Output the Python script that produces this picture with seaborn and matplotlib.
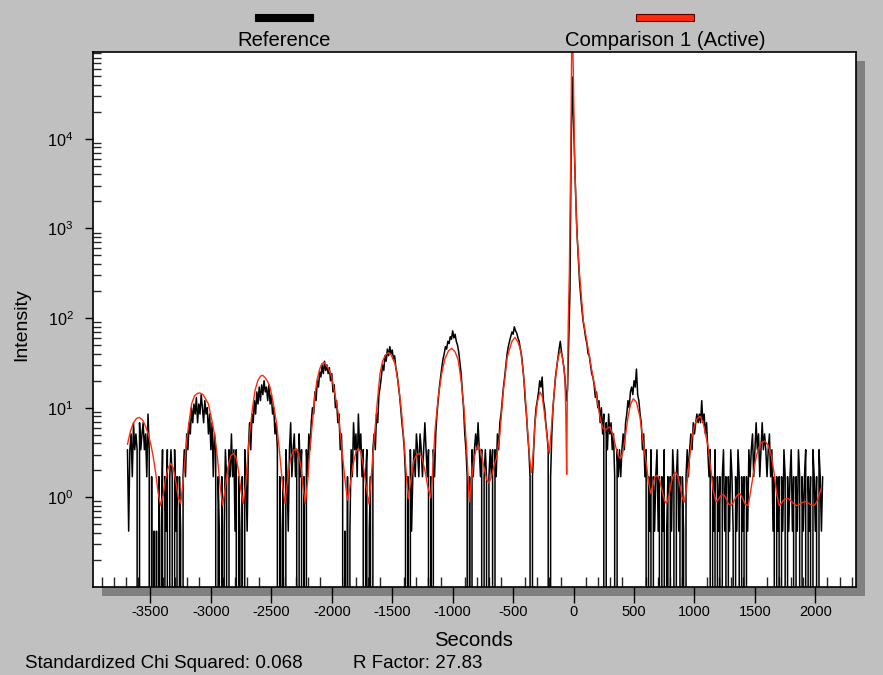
import numpy as np
import matplotlib
matplotlib.use("Agg")
import matplotlib.pyplot as plt
from matplotlib.patches import Rectangle
from matplotlib.ticker import FixedLocator, MultipleLocator, LogLocator, NullFormatter
import seaborn as sns

sns.set_style("white")
plt.rcParams["font.family"] = ["Liberation Sans", "DejaVu Sans"]
plt.rcParams["mathtext.fontset"] = "custom"
plt.rcParams["mathtext.rm"] = "Liberation Sans"
plt.rcParams["axes.unicode_minus"] = False
plt.rcParams["text.color"] = "black"

# ================================
# DATA
# ================================

# measured scan, one value every 10 s starting at -3690 s
black_start = -3690
black_step = 10
black_int = [
    # -3690
    3.4, 0.42, 3.4, 5.1, 1.7, 6.8, 3.4, 5.1, 3.4, 0, 6.8, 3.4, 5.1, 6.8, 3.4,
    5.1, 1.7, 8.5, 3.4, 0, 1.7, 0, 0.42, 0, 0.42, 0, 1.7, 0, 0.42, 3.4,
    # -3390
    0, 1.7, 0.42, 3.4, 0, 1.7, 3.4, 1.7, 0, 3.4, 0.42, 1.7, 0, 1.7, 0.42,
    0, 1.7, 3.4, 1.7, 5.1, 3.4, 6.8, 5.1, 10, 6.8, 11, 8.5, 13, 6.8, 11,
    # -3090
    8.5, 14, 10, 6.8, 12, 8.5, 10, 5.1, 8.5, 3.4, 6.8, 1.7, 5.1, 3.4, 0,
    1.7, 0.42, 0, 1.7, 0, 0.42, 3.4, 1.7, 0, 3.4, 1.7, 5.1, 1.7, 3.4, 0.42,
    # -2790
    3.4, 0, 1.7, 0.42, 0, 1.7, 0, 3.4, 1.7, 0.42, 3.4, 6.8, 3.4, 8.5, 6.8,
    12, 8.5, 15, 11, 17, 12, 18, 14, 20, 15, 17, 12, 18, 11, 14,
    # -2490
    8.5, 10, 5.1, 6.8, 3.4, 0, 1.7, 0, 0.42, 1.7, 0, 3.4, 1.7, 0.42, 3.4,
    6.8, 1.7, 3.4, 5.1, 1.7, 3.4, 0, 5.1, 1.7, 3.4, 0, 1.7, 0, 3.4, 1.7,
    # -2190
    5.1, 3.4, 6.8, 10, 8.5, 15, 12, 20, 17, 25, 22, 30, 24, 33, 26,
    30, 24, 28, 20, 24, 15, 18, 10, 12, 6.8, 8.5, 3.4, 5.1, 1.7, 0,
    # -1890
    0.42, 0, 1.7, 0, 0.42, 3.4, 1.7, 6.8, 3.4, 5.1, 1.7, 8.5, 3.4, 5.1, 1.7,
    3.4, 0, 1.7, 3.4, 0, 0.42, 1.7, 0, 3.4, 5.1, 3.4, 8.5, 6.8, 14, 17,
    # -1590
    22, 30, 26, 38, 33, 45, 38, 48, 40, 44, 35, 38, 28, 24, 18,
    14, 10, 6.8, 5.1, 3.4, 1.7, 0, 1.7, 0, 3.4, 0.42, 1.7, 3.4, 1.7, 5.1,
    # -1290
    3.4, 1.7, 5.1, 3.4, 1.7, 3.4, 6.8, 3.4, 1.7, 3.4, 0, 1.7, 0, 3.4, 1.7,
    5.1, 8.5, 12, 17, 22, 28, 35, 40, 48, 45, 55, 52, 62, 58, 72,
    # -990
    60, 66, 55, 50, 42, 32, 24, 15, 10, 5.1, 3.4, 1.7, 0, 1.7, 0,
    3.4, 1.7, 3.4, 5.1, 3.4, 6.8, 3.4, 1.7, 3.4, 0, 1.7, 3.4, 1.7, 0, 1.7,
    # -690
    3.4, 1.7, 3.4, 0, 3.4, 1.7, 5.1, 3.4, 6.8, 8.5, 12, 17, 22, 30, 40,
    48, 55, 62, 70, 66, 80, 72, 68, 60, 55, 45, 38, 28, 20, 12,
    # -390
    8.5, 5.1, 3.4, 1.7, 0, 1.7, 3.4, 6.8, 10, 12, 15, 20, 17, 22, 12,
    10, 6.8, 5.1, 3.4, 0, 1.7, 5.1, 10, 15, 22, 28, 36, 45, 55, 42,
    # -90
    35, 28, 20, 12, 16, 60, 200, 8000, 49000, 15000, 5000, 1800, 800, 450, 250,
    170, 120, 90, 75, 60, 52, 40, 38, 30, 24, 22, 18, 13, 15, 10,
    # 210
    12, 6.8, 10, 5.1, 8.5, 0, 6.8, 3.4, 8.5, 5.1, 6.8, 3.4, 5.1, 1.7, 0,
    3.4, 1.7, 3.4, 1.7, 3.4, 5.1, 3.4, 6.8, 8.5, 12, 10, 15, 17, 14, 20,
    # 510
    17, 27, 14, 12, 8.5, 6.8, 3.4, 5.1, 1.7, 3.4, 0, 1.7, 0.42, 3.4, 0,
    1.7, 0.42, 1.7, 3.4, 0.42, 1.7, 0, 1.7, 0.42, 3.4, 0, 0.42, 1.7, 0, 1.7,
    # 810
    0.42, 3.4, 1.7, 0, 1.7, 3.4, 0.42, 1.7, 0, 1.7, 0.42, 0, 1.7, 3.4, 1.7,
    3.4, 5.1, 3.4, 6.8, 5.1, 6.8, 8.5, 6.8, 8.5, 6.8, 12, 6.8, 8.5, 5.1, 6.8,
    # 1110
    3.4, 1.7, 3.4, 0, 1.7, 0.42, 3.4, 0, 1.7, 0.42, 1.7, 0, 1.7, 3.4, 0.42,
    1.7, 0, 1.7, 0.42, 3.4, 1.7, 0.42, 0, 1.7, 0.42, 3.4, 1.7, 0, 1.7, 0.42,
    # 1410
    1.7, 0, 1.7, 0.42, 3.4, 1.7, 3.4, 5.1, 1.7, 3.4, 6.8, 3.4, 5.1, 1.7, 3.4,
    6.8, 3.4, 5.1, 3.4, 1.7, 3.4, 5.1, 1.7, 3.4, 0.42, 1.7, 0, 1.7, 0.42, 1.7,
    # 1710
    0, 1.7, 0.42, 3.4, 1.7, 0, 1.7, 0.42, 1.7, 3.4, 0.42, 1.7, 0, 1.7, 0.42,
    3.4, 1.7, 0, 1.7, 0.42, 1.7, 3.4, 0, 1.7, 0.42, 1.7, 0, 3.4, 1.7, 0.42,
    # 2010
    1.7, 0, 3.4, 1.7, 0.42, 1.7,
]
black_sec = black_start + black_step * np.arange(len(black_int))

# simulated curve (Comparison 1)
red_sec = [
    -3690, -3665, -3640, -3615, -3592, -3565, -3540, -3518, -3495, -3476,
    -3455, -3435, -3415, -3395, -3375, -3355, -3333, -3310, -3290, -3270,
    -3250, -3230, -3215, -3200, -3180, -3159, -3135, -3110, -3090, -3065,
    -3040, -3021, -2995, -2966, -2945, -2925, -2903, -2880, -2858, -2836,
    -2814, -2792, -2772, -2752, -2732, -2712, -2695, -2677, -2655, -2635,
    -2612, -2590, -2572, -2550, -2530, -2511, -2485, -2456, -2430, -2408,
    -2387, -2365, -2342, -2318, -2296, -2275, -2255, -2237, -2219, -2200,
    -2180, -2166, -2150, -2139, -2120, -2100, -2082, -2064, -2045, -2020,
    -2001, -1975, -1946, -1925, -1905, -1887, -1869, -1850, -1825, -1800,
    -1781, -1760, -1740, -1715, -1692, -1675, -1660, -1643, -1625, -1601,
    -1580, -1555, -1533, -1510, -1490, -1477, -1450, -1422, -1400, -1385,
    -1367, -1345, -1320, -1298, -1276, -1255, -1230, -1205, -1182, -1165,
    -1146, -1120, -1091, -1065, -1035, -1008, -980, -954, -930, -907,
    -885, -872, -862, -845, -825, -805, -788, -768, -745, -720,
    -700, -680, -660, -636, -610, -595, -581, -567, -550, -532,
    -510, -485, -460, -438, -415, -400, -388, -370, -355, -347,
    -335, -320, -300, -278, -260, -240, -220, -201, -185, -170,
    -154, -135, -112, -95, -80, -71, -64, -57, -52, -44,
    -35, -28, -22, -15, -8, -2, 6, 12, 25, 47,
    80, 110, 136, 160, 177, 200, 218, 240, 260, 280,
    301, 325, 350, 370, 390, 410, 430, 450, 470, 494,
    520, 549, 575, 605, 620, 638, 655, 672, 692, 712,
    735, 755, 770, 790, 810, 828, 844, 862, 880, 898,
    916, 935, 955, 977, 1000, 1020, 1046, 1070, 1090, 1114,
    1135, 1155, 1178, 1198, 1218, 1238, 1258, 1280, 1302, 1322,
    1342, 1360, 1376, 1395, 1420, 1445, 1470, 1500, 1525, 1550,
    1583, 1610, 1638, 1660, 1680, 1701, 1720, 1740, 1760, 1776,
    1795, 1820, 1845, 1865, 1890, 1910, 1928, 1945, 1965, 1988,
    2010, 2030, 2052,
]
red_int = [
    3.9, 5.5, 6.8, 7.6, 7.8, 7.3, 6.2, 5.1, 3.8, 2.8,
    1.8, 1.1, 0.81, 1.05, 1.6, 2.1, 2.4, 2.1, 1.5, 1.0,
    0.85, 1.5, 2.6, 4.3, 7.0, 11.1, 13.6, 14.5, 14.6, 14.0,
    12.3, 11.1, 7.6, 4.7, 2.7, 1.4, 0.81, 1.3, 2.2, 2.9,
    3.1, 2.8, 2.0, 1.2, 0.85, 1.4, 2.9, 5.6, 10, 15.6,
    20, 22.5, 23, 21.5, 19.5, 17, 11.5, 6.6, 3.0, 1.4,
    0.85, 1.6, 2.7, 3.3, 3.5, 3.1, 2.2, 1.3, 0.85, 1.5,
    3.6, 5.6, 9.5, 14, 21, 27, 31, 32, 30, 26,
    22, 14.5, 8.6, 4.5, 2.4, 1.4, 0.93, 1.3, 2.3, 3.2,
    3.5, 3.2, 2.3, 1.3, 0.84, 1.6, 3.0, 5.6, 11, 24,
    33, 39, 41, 39, 34, 31, 19, 8.6, 3.8, 1.9,
    0.97, 1.6, 2.6, 3.0, 3.1, 2.8, 2.0, 1.3, 0.99, 2.0,
    5.6, 13, 24, 35, 43, 46, 42, 34, 20, 10,
    3.6, 1.6, 0.89, 1.5, 2.6, 3.5, 3.8, 3.3, 2.3, 1.6,
    1.44, 1.7, 2.2, 2.8, 5.0, 9.0, 15.6, 22, 36, 44,
    55, 61, 54, 44, 24, 14, 7.9, 3.5, 2.1, 1.9,
    3.0, 6.5, 11.5, 15, 13.5, 8.5, 4.8, 3.1, 5.5, 10.5,
    18.6, 32, 44, 38, 28, 22, 8, 1.8, 12, 87,
    320, 2000, 9500, 150000, 150000, 54000, 9500, 4100, 1040, 340,
    95, 55, 34, 22, 17, 11, 7.9, 6.0, 5.6, 5.9,
    6.1, 5.0, 3.6, 2.9, 2.7, 3.3, 5.0, 7.8, 10.8, 12.6,
    11.5, 7.9, 4.2, 2.2, 1.5, 1.1, 1.35, 1.7, 1.76, 1.55,
    1.15, 0.9, 0.85, 1.05, 1.5, 1.8, 1.9, 1.75, 1.35, 1.0,
    0.89, 1.3, 2.4, 4.5, 6.3, 7.5, 8.0, 7.0, 5.2, 3.6,
    2.1, 1.2, 0.89, 0.95, 1.05, 1.08, 1.0, 0.85, 0.81, 0.88,
    1.0, 1.08, 1.1, 1.0, 0.84, 0.81, 1.3, 2.4, 3.4, 4.05,
    4.25, 3.8, 2.8, 1.8, 1.1, 0.81, 0.86, 0.94, 0.97, 0.97,
    0.92, 0.85, 0.81, 0.83, 0.87, 0.9, 0.89, 0.86, 0.82, 0.81,
    0.88, 1.05, 1.3,
]

series_names = ["Reference", "Comparison 1 (Active)"]
series_colors = ["#000000", "#ff2a0a"]
xticks = [-3500, -3000, -2500, -2000, -1500, -1000, -500, 0, 500, 1000, 1500, 2000]
yticks = [1, 10, 100, 1000, 10000]
ytick_labels = [r"$\mathregular{10^{%d}}$" % k for k in range(5)]
stats_text = ["Standardized Chi Squared: 0.068", "R Factor: 27.83"]

# ================================
# FIGURE
# ================================

W, H = 883, 675
bg = "#c0c0c0"
fig = plt.figure(figsize=(W / 100, H / 100), dpi=100, facecolor=bg)


def fx(px):
    return px / W


def fy(py):
    return 1 - py / H


ax_l, ax_t, ax_r, ax_b = 93, 52, 856, 587
ax = fig.add_axes([fx(ax_l), fy(ax_b), (ax_r - ax_l) / W, (ax_b - ax_t) / H])
ax.set_facecolor("white")

# drop shadow behind the plot area
shadow = Rectangle((fx(ax_l + 9), fy(ax_b + 9)), (ax_r - ax_l) / W, (ax_b - ax_t) / H,
                   transform=fig.transFigure, facecolor="#808080", edgecolor="none", zorder=-5)
fig.add_artist(shadow)

sns.lineplot(x=black_sec, y=black_int, ax=ax, color=series_colors[0], lw=1.1,
             estimator=None, legend=False)
sns.lineplot(x=red_sec, y=red_int, ax=ax, color=series_colors[1], lw=1.0,
             estimator=None, legend=False)

ax.set_yscale("log")
ax.set_xlim(-3975, 2336)
ax.set_ylim(0.1, 9.3e4)
ax.set_xlabel("")
ax.set_ylabel("")

ax.xaxis.set_major_locator(FixedLocator(xticks))
ax.xaxis.set_minor_locator(MultipleLocator(100))
ax.set_yticks(yticks, labels=ytick_labels)
ax.yaxis.set_minor_locator(LogLocator(base=10, subs=np.arange(2, 10), numticks=20))
ax.yaxis.set_minor_formatter(NullFormatter())

ax.tick_params(axis="x", which="major", direction="out", length=11.5, width=1,
               pad=1.5, labelsize=10.5, colors="black")
ax.tick_params(axis="x", which="minor", direction="in", length=7, width=1)
ax.tick_params(axis="y", which="major", direction="out", length=6, width=1,
               pad=8, labelsize=11.7, colors="black")
ax.tick_params(axis="y", which="minor", direction="in", length=6, width=1)
ax.tick_params(bottom=True, left=True, which="both")

for sp in ax.spines.values():
    sp.set_visible(True)
    sp.set_color("black")
    sp.set_linewidth(1.2)

# legend bars and labels across the top
fig.add_artist(Rectangle((fx(255), fy(21)), 58 / W, 7 / H, transform=fig.transFigure,
                         facecolor=series_colors[0], edgecolor="black", lw=0.8))
fig.add_artist(Rectangle((fx(636), fy(21)), 58 / W, 7 / H, transform=fig.transFigure,
                         facecolor=series_colors[1], edgecolor="#5a0000", lw=0.8))
fig.text(fx(284), fy(40), series_names[0], ha="center", va="center", fontsize=14.6)
fig.text(fx(665), fy(40), series_names[1], ha="center", va="center", fontsize=14.6)

fig.text(fx(473), fy(640), "Seconds", ha="center", va="center", fontsize=14.6)
fig.text(fx(22), fy(325), "Intensity", ha="center", va="center", rotation=90, fontsize=14)
fig.text(fx(25), fy(663), stats_text[0], ha="left", va="center", fontsize=13.5)
fig.text(fx(353), fy(663), stats_text[1], ha="left", va="center", fontsize=13.5)

fig.savefig("out.png", dpi=100, facecolor=bg)
